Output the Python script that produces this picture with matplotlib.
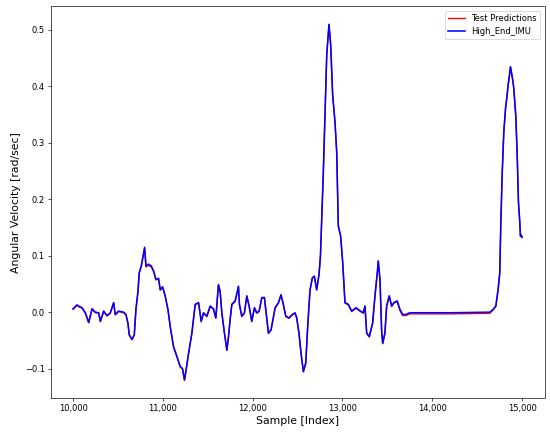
import matplotlib
matplotlib.use("Agg")
import matplotlib.pyplot as plt
from matplotlib.ticker import StrMethodFormatter

# sample index
sample = [10000, 10044, 10070, 10100, 10137, 10174, 10190, 10211, 10248, 10285,
          10304, 10341, 10378, 10415, 10452, 10470, 10507, 10563, 10589, 10611,
          10626, 10656, 10682, 10700, 10723, 10737, 10760, 10797, 10812, 10841,
          10871, 10897, 10923, 10952, 10971, 10997, 11026, 11057, 11082, 11119,
          11156, 11193, 11219, 11241, 11256, 11286, 11323, 11360, 11398, 11427,
          11453, 11490, 11527, 11564, 11590, 11619, 11638, 11657, 11686, 11713,
          11731, 11749, 11768, 11805, 11842, 11853, 11879, 11908, 11935, 11961,
          11990, 12020, 12046, 12072, 12102, 12131, 12150, 12176, 12205, 12250,
          12287, 12316, 12342, 12369, 12405, 12442, 12472, 12491, 12516, 12539,
          12565, 12591, 12613, 12639, 12665, 12687, 12713, 12739, 12755, 12769,
          12787, 12806, 12825, 12850, 12869, 12891, 12917, 12936, 12954, 12980,
          13003, 13028, 13065, 13103, 13151, 13192, 13232, 13251, 13270, 13299,
          13336, 13362, 13388, 13399, 13418, 13436, 13448, 13473, 13492, 13521,
          13548, 13573, 13610, 13640, 13670, 13707, 13751, 14200, 14641, 14678,
          14708, 14733, 14752, 14763, 14778, 14797, 14816, 14834, 14845, 14856,
          14871, 14893, 14908, 14930, 14945, 14960, 14975, 14982, 14989, 15000]

high_end_imu = [0.006, 0.013, 0.010, 0.008, -0.001, -0.018, -0.008, 0.006, 0.000, -0.001,
                -0.016, 0.002, -0.006, -0.001, 0.017, -0.004, 0.002, 0.000, -0.004, -0.019,
                -0.040, -0.048, -0.040, 0.005, 0.037, 0.070, 0.082, 0.115, 0.082, 0.085,
                0.082, 0.073, 0.058, 0.060, 0.040, 0.045, 0.029, 0.005, -0.025, -0.061,
                -0.078, -0.096, -0.100, -0.120, -0.105, -0.073, -0.037, 0.014, 0.017, -0.016,
                -0.001, -0.007, 0.011, 0.006, -0.010, 0.049, 0.037, -0.001, -0.037, -0.067,
                -0.043, -0.013, 0.014, 0.020, 0.046, 0.014, -0.007, -0.001, 0.029, 0.011,
                -0.016, 0.008, -0.001, 0.002, 0.026, 0.026, -0.001, -0.037, -0.031, 0.008,
                0.017, 0.031, 0.014, -0.007, -0.010, -0.004, -0.001, -0.010, -0.037, -0.073,
                -0.105, -0.090, -0.025, 0.040, 0.061, 0.064, 0.040, 0.067, 0.100, 0.165,
                0.248, 0.355, 0.456, 0.510, 0.474, 0.385, 0.337, 0.284, 0.153, 0.135,
                0.088, 0.017, 0.014, 0.002, 0.008, 0.003, -0.001, 0.011, -0.037, -0.043,
                -0.019, 0.029, 0.070, 0.091, 0.058, -0.031, -0.055, -0.037, 0.011, 0.029,
                0.011, 0.017, 0.020, 0.005, -0.004, -0.004, -0.001, -0.001, 0.000, 0.005,
                0.011, 0.040, 0.070, 0.153, 0.242, 0.320, 0.361, 0.385, 0.403, 0.415,
                0.435, 0.415, 0.397, 0.349, 0.284, 0.195, 0.159, 0.135, 0.137, 0.133]

test_predictions = [0.005, 0.012, 0.009, 0.007, -0.002, -0.019, -0.009, 0.005, -0.001, -0.002,
                    -0.017, 0.001, -0.007, -0.002, 0.016, -0.005, 0.001, -0.001, -0.005, -0.020,
                    -0.041, -0.049, -0.041, 0.004, 0.036, 0.069, 0.081, 0.113, 0.080, 0.083,
                    0.080, 0.072, 0.057, 0.059, 0.039, 0.044, 0.028, 0.004, -0.026, -0.062,
                    -0.079, -0.097, -0.101, -0.121, -0.106, -0.074, -0.038, 0.013, 0.016, -0.017,
                    -0.002, -0.008, 0.010, 0.005, -0.011, 0.048, 0.036, -0.002, -0.038, -0.068,
                    -0.044, -0.014, 0.013, 0.019, 0.045, 0.013, -0.008, -0.002, 0.028, 0.010,
                    -0.017, 0.007, -0.002, 0.001, 0.025, 0.025, -0.002, -0.038, -0.032, 0.007,
                    0.016, 0.030, 0.013, -0.008, -0.011, -0.005, -0.002, -0.011, -0.038, -0.074,
                    -0.106, -0.091, -0.026, 0.039, 0.060, 0.063, 0.039, 0.066, 0.099, 0.164,
                    0.247, 0.354, 0.455, 0.509, 0.473, 0.384, 0.336, 0.283, 0.152, 0.134,
                    0.087, 0.016, 0.013, 0.001, 0.007, 0.002, -0.002, 0.010, -0.038, -0.044,
                    -0.020, 0.028, 0.069, 0.090, 0.057, -0.032, -0.056, -0.038, 0.010, 0.028,
                    0.010, 0.016, 0.019, 0.003, -0.006, -0.006, -0.003, -0.003, -0.002, 0.004,
                    0.010, 0.039, 0.069, 0.152, 0.241, 0.319, 0.360, 0.384, 0.402, 0.414,
                    0.434, 0.414, 0.396, 0.348, 0.283, 0.194, 0.158, 0.134, 0.136, 0.132]

fig = plt.figure(figsize=(550 / 60, 432 / 60), dpi=60)
ax = fig.add_axes([0.092, 0.078, 0.898, 0.907])

ax.plot(sample, test_predictions, color="red", lw=1.6, label="Test Predictions")
ax.plot(sample, high_end_imu, color="blue", lw=1.9, label="High_End_IMU")

ax.set_xlabel("Sample [Index]", fontsize=13)
ax.set_ylabel("Angular Velocity [rad/sec]", fontsize=13)
ax.xaxis.set_major_formatter(StrMethodFormatter("{x:,.0f}"))
ax.set_xticks([10000, 11000, 12000, 13000, 14000, 15000])
ax.legend(loc="upper right")

fig.savefig("out.png", dpi=60)
